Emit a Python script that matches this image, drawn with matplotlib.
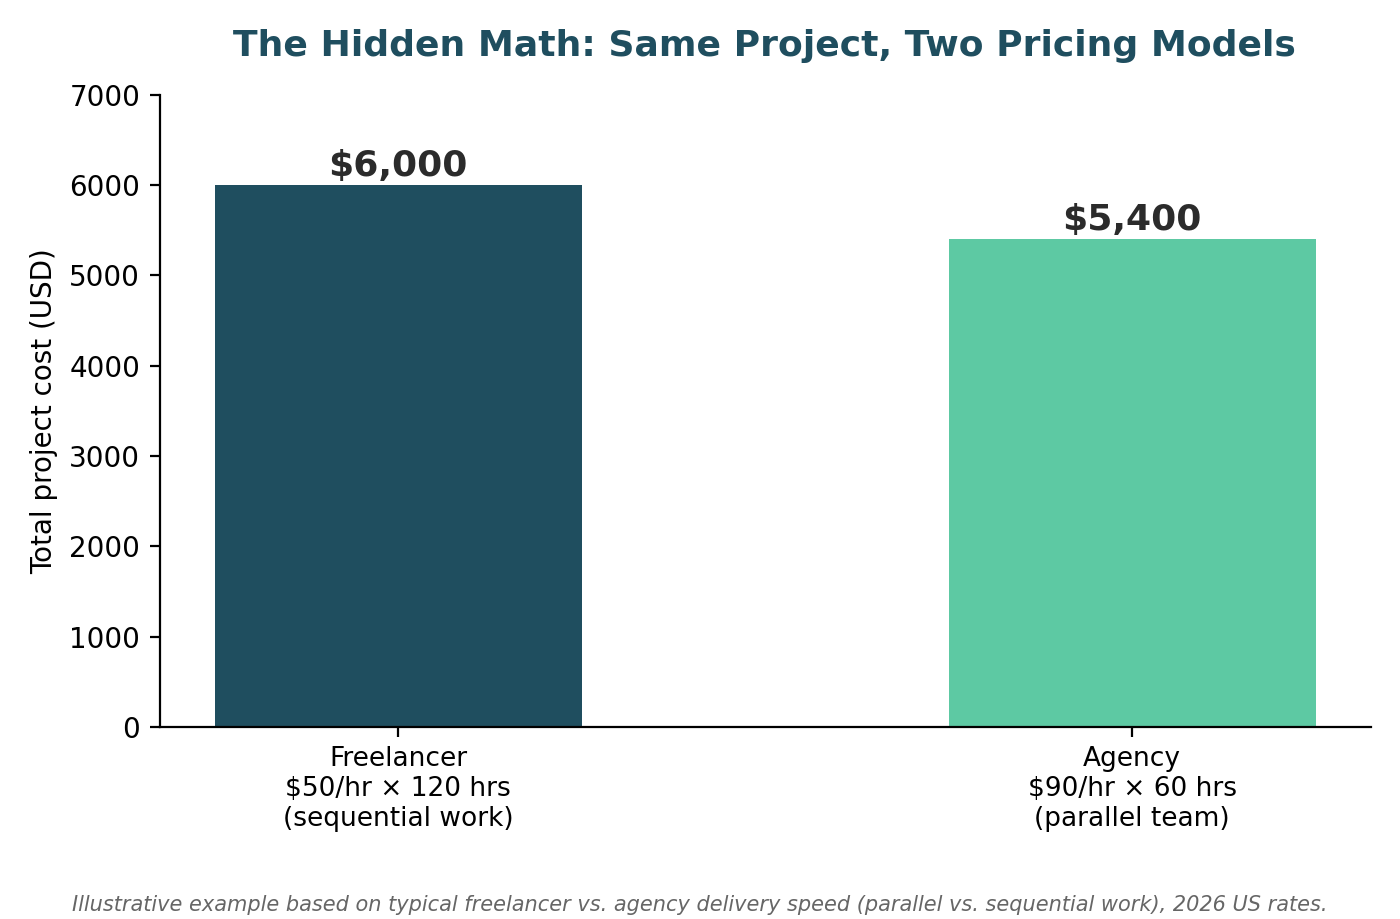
import matplotlib
matplotlib.use('Agg')
import matplotlib.pyplot as plt

categories = ['Freelancer\n$50/hr × 120 hrs\n(sequential work)',
              'Agency\n$90/hr × 60 hrs\n(parallel team)']
costs = [6000, 5400]
value_labels = ['$6,000', '$5,400']
colors = ['#1f4e5f', '#5dc9a3']

fig = plt.figure(figsize=(7, 4.595), dpi=200)
ax = fig.add_axes([0.114, 0.209, 0.865, 0.688])

x = list(range(len(categories)))
bars = ax.bar(x, costs, width=0.5, color=colors)

for b, lab in zip(bars, value_labels):
    ax.text(b.get_x() + b.get_width() / 2, b.get_height() + 20, lab,
            ha='center', va='bottom', fontsize=13, fontweight='bold', color='#2b2b2b')

ax.set_xticks(x)
ax.set_xticklabels(categories, fontsize=9.5)
ax.set_ylim(0, 7000)
ax.set_yticks(range(0, 7001, 1000))
ax.tick_params(axis='y', labelsize=10)
ax.set_ylabel('Total project cost (USD)', fontsize=10)
ax.spines['top'].set_visible(False)
ax.spines['right'].set_visible(False)

fig.text(0.546, 0.95, 'The Hidden Math: Same Project, Two Pricing Models',
         ha='center', va='center', fontsize=13, fontweight='bold', color='#1f4e5f')
fig.text(0.5, 0.015, 'Illustrative example based on typical freelancer vs. agency delivery speed '
         '(parallel vs. sequential work), 2026 US rates.',
         ha='center', va='center', fontsize=7.5, style='italic', color='#666666')

fig.savefig('out.png', dpi=200)
